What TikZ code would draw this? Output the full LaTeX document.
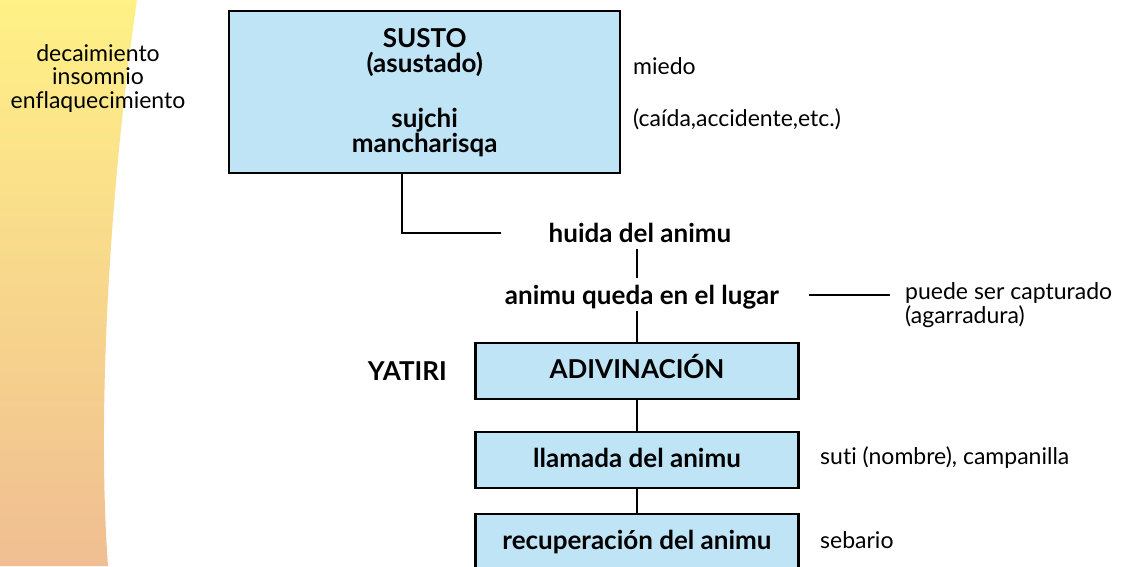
\documentclass[tikz,border=0pt]{standalone}
\usepackage{fontspec}
\setmainfont{Lato}[Ligatures=NoCommon]
\usepackage{tikz}
\usetikzlibrary{positioning, calc}
\definecolor{boxblue}{RGB}{190,228,246}
\definecolor{bandtop}{RGB}{255,241,134}
\definecolor{bandmid}{RGB}{250,218,130}
\definecolor{bandbot}{RGB}{240,190,146}
\tikzset{
    stepbox/.style={draw=black, line width=2.4pt, fill=boxblue,
        minimum width=323pt, minimum height=56pt, inner sep=0pt,
        font=\bfseries\fontsize{26}{25}\selectfont},
    rowbox/.style={stepbox, text height=19pt, text depth=5pt},
    plain/.style={font=\fontsize{23}{23.5}\selectfont, inner sep=0pt},
    strong/.style={font=\bfseries\fontsize{26}{25}\selectfont,
        text height=19pt, text depth=0pt, inner xsep=0pt, inner ysep=7pt},
    link/.style={line width=2pt}
}
\begin{document}
\begin{tikzpicture}[x=1pt, y=1pt]
    \useasboundingbox (0,0) rectangle (1125,-566);

    % background band
    \shade[top color=bandtop, middle color=bandmid, bottom color=bandbot]
        (0,0) -- (137,0) .. controls (112,-170) and (96,-400) .. (108,-566)
        -- (0,-566) -- cycle;

    % boxes
    \node[stepbox, minimum width=391pt, minimum height=162pt, align=center,
        anchor=north west] (susto) at (228,-10)
        {SUSTO\\(asustado)\\[30pt]sujchi\\mancharisqa};
    \node[rowbox] (adiv) at (637,-371) {ADIVINACIÓN};
    \node[rowbox] (llamada) at (637,-460) {llamada del animu};
    \node[rowbox] (recup) at (637,-542) {recuperación del animu};

    % bold labels
    \node[strong, anchor=base] (huida) at (640,-242) {huida del animu};
    \node[strong, anchor=base] (animu) at (642,-304) {animu queda en el lugar};
    \node[strong, anchor=base east] (yatiri) at (447,-380) {YATIRI};

    % side labels
    \node[plain, align=center] (sintomas) at (98,-78)
        {decaimiento\\insomnio\\enflaquecimiento};
    \foreach \name/\x/\y/\txt in {
        miedo/633/74/miedo,
        causa/633/126/{(caída,accidente,etc.)},
        suti/820/464/{suti (nombre), campanilla},
        sebario/820/548/sebario}{
        \node[plain, anchor=base west] (\name) at (\x,-\y) {\txt};
    }
    \node[plain, align=left, anchor=west] (puede) at (905,-305)
        {puede ser capturado\\(agarradura)};

    % connectors
    \draw[link] ($(susto.south west)!0.442!(susto.south east)$)
        |- ([xshift=-48pt]huida.west);
    \foreach \a/\b in {huida/animu, animu/adiv, adiv/llamada, llamada/recup}
    {
        \draw[link] (adiv.north |- \a.south) -- (adiv.north |- \b.north);
    }
    \draw[link, shorten <=30pt, shorten >=15pt]
        (animu.east) -- (animu.east -| puede.west);
\end{tikzpicture}
\end{document}
